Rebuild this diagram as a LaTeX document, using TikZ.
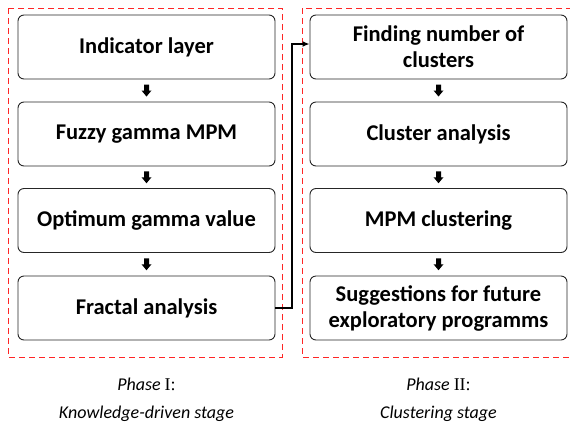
\documentclass[tikz,border=0pt]{standalone}
\usepackage{fontspec}
\setmainfont{Carlito}
\newfontfamily\timesfont{Liberation Serif}
\usetikzlibrary{arrows.meta}
\begin{document}
\begin{tikzpicture}[x=1pt,y=-1pt,
  stepbox/.style={draw=black!85,line width=0.9pt,rounded corners=6pt,minimum width=257pt,minimum height=64pt,align=center,font=\fontsize{22.5}{26}\selectfont\bfseries,inner sep=0pt},
  phasebox/.style={draw=red!85!white,dashed,dash pattern=on 6pt off 4pt,line width=1pt},
  blockarrow/.style={fill=black,draw=none},
  conn/.style={draw=black,line width=1.5pt,-{Latex[length=7pt,width=6pt]}},
  captext/.style={font=\fontsize{18}{20}\selectfont\itshape}
]
\useasboundingbox (0,0) rectangle (570,429);
\draw[phasebox] (8,8) rectangle (282,357);
\draw[phasebox] (302,8) rectangle (573,357);
% left column
\node[stepbox] (a1) at (146.5,47) {Indicator layer};
\node[stepbox] (a2) at (146.5,134) {Fuzzy gamma MPM};
\node[stepbox] (a3) at (146.5,220.5) {Optimum gamma value};
\node[stepbox] (a4) at (146.5,308) {Fractal analysis};
% right column
\node[stepbox] (b1) at (438.5,47) {Finding number of\\clusters};
\node[stepbox] (b2) at (438.5,134) {Cluster analysis};
\node[stepbox] (b3) at (438.5,220.5) {MPM clustering};
\node[stepbox] (b4) at (438.5,308) {Suggestions for future\\exploratory programms};
% small block arrows
\foreach \u/\v in {a1/a2,a2/a3,a3/a4,b1/b2,b2/b3,b3/b4}{
  \path (\u.south) -- (\v.north) coordinate[pos=0.5] (m\u);
  \fill[blockarrow] ([shift={(-2.5,-6)}]m\u) -- ([shift={(2.5,-6)}]m\u) -- ([shift={(2.5,0)}]m\u) -- ([shift={(5,0)}]m\u) -- ([shift={(0,6)}]m\u) -- ([shift={(-5,0)}]m\u) -- ([shift={(-2.5,0)}]m\u) -- cycle;
}
% connector
\coordinate (turnA) at (292,0);
\draw[conn] (a4.east) -- (turnA |- a4.east) -- (turnA |- 0,44) -- (b1.west |- 0,44);
% captions
\node[captext] (c1) at (146.5,384) {Phase {\timesfont\upshape I:}};
\node[captext] (c2) at (146.5,414) {Knowledge-driven stage};
\node[captext] (c3) at (438.5,384) {Phase {\timesfont\upshape II:}};
\node[captext] (c4) at (438.5,414) {Clustering stage};
\end{tikzpicture}
\end{document}
